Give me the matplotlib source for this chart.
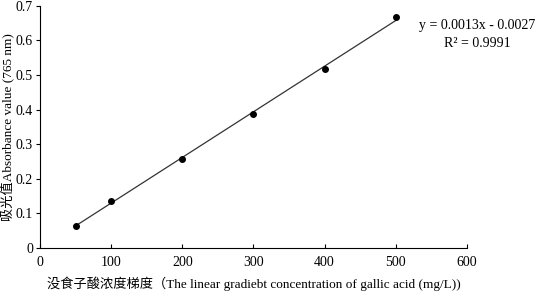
import numpy as np
import matplotlib.pyplot as plt
from matplotlib.ticker import FuncFormatter

# concentration (mg/L) and absorbance
concentration = [50, 100, 200, 300, 400, 500]
absorbance = [0.065, 0.137, 0.258, 0.388, 0.519, 0.667]

x_ticks = [0, 100, 200, 300, 400, 500, 600]
y_ticks = [0, 0.1, 0.2, 0.3, 0.4, 0.5, 0.6, 0.7]

plt.rcParams['font.family'] = ['Liberation Serif', 'Noto Sans CJK SC']
plt.rcParams['font.size'] = 10

fig = plt.figure(figsize=(5.41, 2.95), dpi=100)
ax = fig.add_axes([0.074, 0.159, 0.789, 0.821])

k, b = np.polyfit(concentration, absorbance, 1)
xs = np.array([concentration[0], concentration[-1]])
ax.plot(xs, k * xs + b, color='#333333', lw=0.9)
ax.scatter(concentration, absorbance, s=16, color='black', zorder=3)

ax.set_xlim(0, 600)
ax.set_ylim(0, 0.7)
ax.set_xticks(x_ticks)
ax.set_yticks(y_ticks)
ax.yaxis.set_major_formatter(FuncFormatter(lambda v, p: '0' if v == 0 else f'{v:.1f}'))
ax.tick_params(axis='x', direction='in', length=3, pad=6, labelsize=10)
ax.tick_params(axis='y', direction='out', length=3, pad=2, labelsize=10)
ax.spines['top'].set_visible(False)
ax.spines['right'].set_visible(False)

ax.set_xlabel('没食子酸浓度梯度（The linear gradiebt concentration of gallic acid (mg/L))',
              labelpad=5, fontsize=9.5)
ax.set_ylabel('吸光值Absorbance value (765 nm)', fontsize=9.5)
ax.yaxis.set_label_coords(-0.061, 0.5)

fig.text(0.882, 0.915, 'y = 0.0013x - 0.0027', ha='center', va='center', fontsize=10)
fig.text(0.882, 0.852, 'R² = 0.9991', ha='center', va='center', fontsize=10)

fig.savefig('out.png', dpi=100)
